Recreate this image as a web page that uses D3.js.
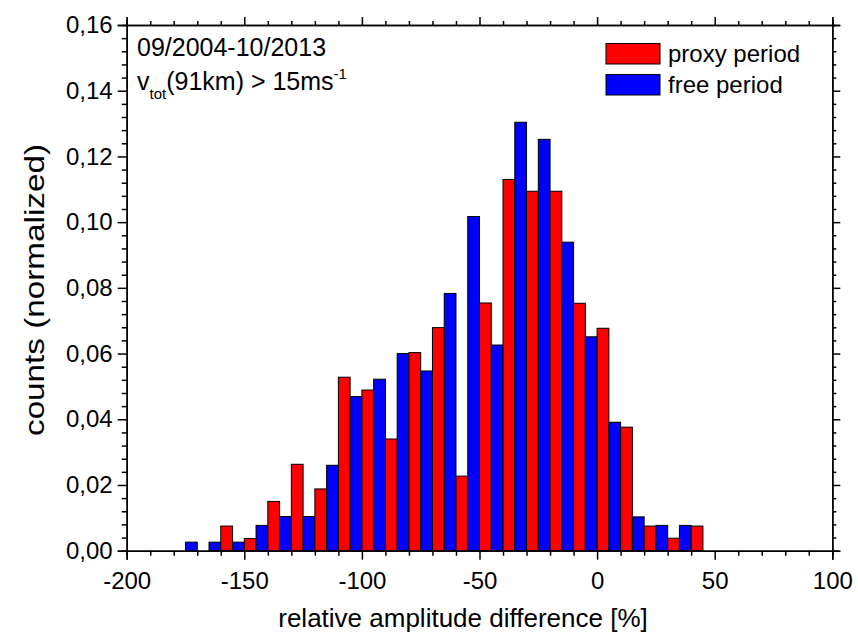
<!DOCTYPE html>
<html>
<head>
<meta charset="utf-8">
<script src="https://cdn.jsdelivr.net/npm/d3@7"></script>
<style>
  html, body { margin: 0; padding: 0; background: #fff; }
  svg { display: block; }
  text { font-family: "Liberation Sans", Arial, sans-serif; fill: #000; }
</style>
</head>
<body>
<svg id="chart" width="858" height="634"></svg>
<script>
// ---- data ----
const binStarts = [-180,-170,-160,-150,-140,-130,-120,-110,-100,-90,-80,-70,-60,-50,-40,-30,-20,-10,0,10,20,30,40];
const proxyPeriod = [0,0,0.0075,0.0037,0.0150,0.0263,0.0188,0.0528,0.0489,0.0340,0.0603,0.0679,0.0227,0.0754,0.1130,0.1094,0.1094,0.0753,0.0677,0.0376,0.0075,0.0038,0.0075];
const freePeriod  = [0.0026,0.0026,0.0026,0.0077,0.0104,0.0104,0.0260,0.0469,0.0522,0.0600,0.0547,0.0783,0.1017,0.0626,0.1304,0.1252,0.0939,0.0651,0.0391,0.0103,0.0077,0.0077,0];
const xMajorTicks = [-200,-150,-100,-50,0,50,100];
const yMajorTicks = [0,0.02,0.04,0.06,0.08,0.10,0.12,0.14,0.16];
const seriesNames = ["proxy period","free period"];
const seriesColors = ["#ff0000","#0000ff"];
const annotationLine1 = "09/2004-10/2013";
const xTitle = "relative amplitude difference [%]";
const yTitle = "counts (normalized)";

// ---- layout ----
const L = 126.7, R = 832.3, T = 25, B = 550.7;
const svg = d3.select("#chart");
const x = d3.scaleLinear().domain([-200,100]).range([L,R]);
const y = d3.scaleLinear().domain([0,0.16]).range([B,T]);

const locale = d3.formatLocale({decimal: ",", thousands: ".", grouping: [3], currency: ["",""], minus: "-"});
const yFmt = locale.format(".2f");
const xFmt = locale.format("d");

const xMinor = d3.range(-200, 101, 10).filter(v => v % 50 !== 0);
const yMinor = d3.range(0, 0.1601, 0.004).map(v => +v.toFixed(3)).filter(v => Math.abs(v/0.02 - Math.round(v/0.02)) > 1e-6);

// bars
const bars = svg.append("g");
binStarts.forEach((s, i) => {
  [proxyPeriod[i], freePeriod[i]].forEach((v, k) => {
    if (v <= 0) return;
    const x0 = x(s + 5*k), x1 = x(s + 5*k + 5);
    bars.append("rect")
      .attr("x", x0).attr("y", y(v))
      .attr("width", x1 - x0).attr("height", y(0) - y(v))
      .attr("fill", seriesColors[k])
      .attr("stroke", "#000").attr("stroke-width", 1);
  });
});

function styleAxis(g) {
  g.selectAll("path,line").attr("stroke", "#000").attr("stroke-width", 1.5);
  g.selectAll("text").style("font-family", "'Liberation Sans', Arial, sans-serif");
}

// bottom axis
const gb = svg.append("g").attr("transform", `translate(0,${B})`);
gb.call(d3.axisBottom(x).tickValues(xMajorTicks).tickFormat(xFmt).tickSize(9).tickPadding(12))
  .call(styleAxis);
gb.selectAll("text").attr("font-size", 24).attr("fill", "#000");
svg.append("g").attr("transform", `translate(0,${B})`)
  .call(d3.axisBottom(x).tickValues(xMinor).tickFormat("").tickSize(5)).call(styleAxis);

// top axis
svg.append("g").attr("transform", `translate(0,${T})`)
  .call(d3.axisTop(x).tickValues(xMajorTicks).tickFormat("").tickSize(8)).call(styleAxis);
svg.append("g").attr("transform", `translate(0,${T})`)
  .call(d3.axisTop(x).tickValues(xMinor).tickFormat("").tickSize(4)).call(styleAxis);

// left axis
const gl = svg.append("g").attr("transform", `translate(${L},0)`);
gl.call(d3.axisLeft(y).tickValues(yMajorTicks).tickFormat(yFmt).tickSize(9).tickPadding(5))
  .call(styleAxis);
gl.selectAll("text").attr("font-size", 24).attr("fill", "#000");
svg.append("g").attr("transform", `translate(${L},0)`)
  .call(d3.axisLeft(y).tickValues(yMinor).tickFormat("").tickSize(5)).call(styleAxis);

// right axis
svg.append("g").attr("transform", `translate(${R},0)`)
  .call(d3.axisRight(y).tickValues(yMajorTicks).tickFormat("").tickSize(8)).call(styleAxis);
svg.append("g").attr("transform", `translate(${R},0)`)
  .call(d3.axisRight(y).tickValues(yMinor).tickFormat("").tickSize(4)).call(styleAxis);

// axis titles
svg.append("text").attr("x", 463).attr("y", 627)
  .attr("text-anchor", "middle").attr("font-size", 26).text(xTitle);
svg.append("text").attr("transform", `translate(44,290) rotate(-90)`)
  .attr("text-anchor", "middle").attr("font-size", 28)
  .attr("textLength", 292).attr("lengthAdjust", "spacingAndGlyphs").text(yTitle);

// annotation
svg.append("text").attr("x", 137).attr("y", 56).attr("font-size", 25).text(annotationLine1);
const t2 = svg.append("text").attr("x", 137).attr("y", 90).attr("font-size", 25);
t2.append("tspan").text("v");
t2.append("tspan").attr("font-size", 15).attr("dy", 9).text("tot");
t2.append("tspan").attr("dy", -9).text("(91km) > 15ms");
t2.append("tspan").attr("font-size", 15).attr("dy", -11).text("-1");

// legend
const lg = svg.append("g");
seriesNames.forEach((n, i) => {
  const yy = 43.5 + i*31;
  lg.append("rect").attr("x", 606).attr("y", yy).attr("width", 54).attr("height", 20.5)
    .attr("fill", seriesColors[i]).attr("stroke", "#000").attr("stroke-width", 1);
  lg.append("text").attr("x", 668).attr("y", yy + 18.5).attr("font-size", 24).text(n);
});
</script>
</body>
</html>
